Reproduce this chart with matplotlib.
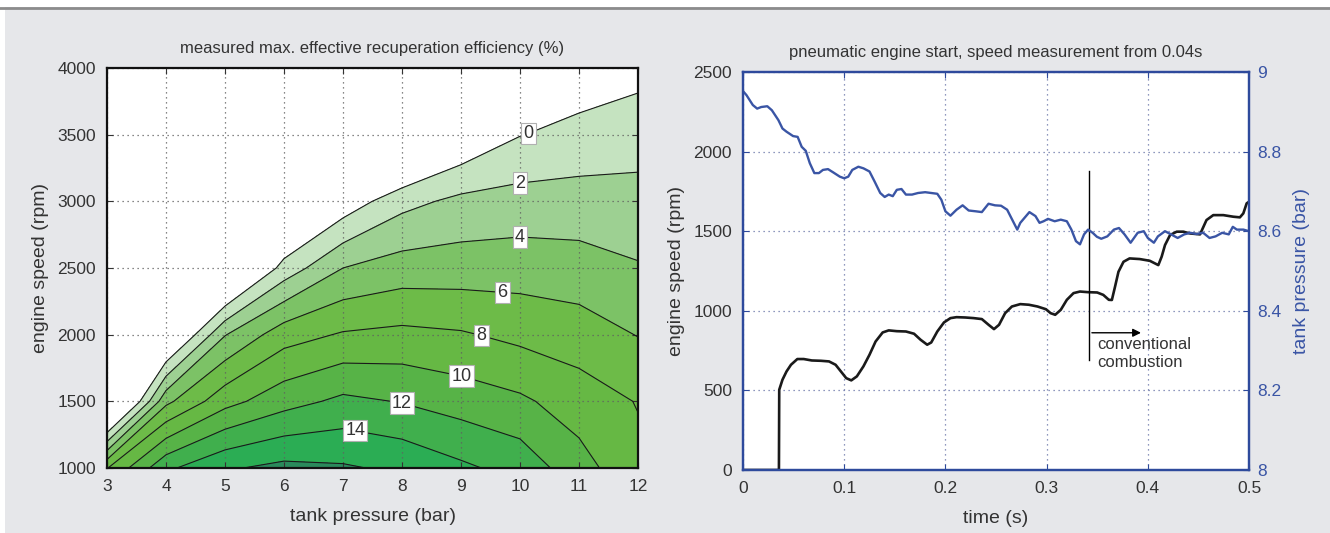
import matplotlib
matplotlib.use("Agg")
import matplotlib.pyplot as plt
import numpy as np
from matplotlib.colors import ListedColormap
from matplotlib.lines import Line2D
from matplotlib.patches import Rectangle

plt.rcParams["font.family"] = ["Liberation Sans", "DejaVu Sans"]

# --- left: efficiency map (tank pressure x engine speed) ---
pressure_bar = [3, 4, 5, 6, 7, 8, 9, 10, 11, 12]
speed_rpm = [1000, 1500, 2000, 2500, 3000, 3500, 4000]
efficiency_pct = [
    [7.9, 13.6, 15.75, 16.55, 16.25, 15.6, 14.38, 13.28, 10.8, 8.5],
    [-7.0, 5.5, 9.3, 11.23, 12.44, 11.9, 11.1, 10.35, 9.03, 7.9],
    [-20.0, -3.8, 3.9, 7.16, 8.19, 8.5, 8.2, 7.5, 6.95, 5.93],
    [-30.0, -14.0, -5.2, 0.79, 4.0, 4.9, 4.96, 5.06, 4.86, 4.16],
    [-40.0, -24.0, -14.0, -4.85, -1.33, 1.36, 2.5, 2.78, 2.78, 2.7],
    [-50.0, -34.0, -24.0, -10.0, -6.0, -5.4, -2.05, -0.07, 0.7, 1.1],
    [-60.0, -44.0, -34.0, -20.0, -11.0, -10.0, -6.0, -3.5, -1.46, -0.66],
]
levels = [0, 2, 4, 6, 8, 10, 12, 14, 16, 18]
band_colors = ["#c5e3c0", "#9dd092", "#7cc266", "#6dbb48", "#66b844",
               "#57b347", "#40af4d", "#2bad54", "#2a8a5c"]
label_spots = [(10.15, 3500), (10.0, 3130), (10.0, 2725), (9.7, 2320),
               (9.35, 2000), (9.0, 1680), (8.0, 1490), (7.2, 1265)]

# --- right: pneumatic start ---
t_pressure = [0, 0.0034, 0.0097, 0.014, 0.018, 0.024, 0.0285, 0.035, 0.039, 0.043,
              0.0495, 0.054, 0.058, 0.062, 0.066, 0.0705, 0.075, 0.079, 0.084, 0.089,
              0.0957, 0.1, 0.104, 0.108, 0.114, 0.119, 0.125, 0.13, 0.1356, 0.14,
              0.144, 0.148, 0.152, 0.1566, 0.161, 0.167, 0.173, 0.18, 0.186, 0.192,
              0.196, 0.2, 0.205, 0.211, 0.217, 0.223, 0.23, 0.236, 0.2426, 0.249,
              0.255, 0.261, 0.266, 0.271, 0.274, 0.278, 0.283, 0.289, 0.293, 0.297,
              0.3014, 0.308, 0.314, 0.32, 0.3245, 0.329, 0.333, 0.337, 0.341, 0.3455,
              0.3497, 0.354, 0.36, 0.3665, 0.3715, 0.377, 0.383, 0.39, 0.396, 0.4,
              0.406, 0.41, 0.417, 0.423, 0.4295, 0.436, 0.442, 0.448, 0.4547, 0.461,
              0.467, 0.4735, 0.48, 0.484, 0.488, 0.4945, 0.5]
tank_pressure = [8.952, 8.942, 8.917, 8.908, 8.912, 8.914, 8.904, 8.879, 8.858, 8.85,
                 8.839, 8.837, 8.812, 8.802, 8.771, 8.746, 8.746, 8.754, 8.756, 8.748,
                 8.737, 8.733, 8.737, 8.754, 8.762, 8.758, 8.75, 8.725, 8.696, 8.686,
                 8.692, 8.688, 8.704, 8.706, 8.692, 8.692, 8.696, 8.698, 8.696, 8.694,
                 8.679, 8.65, 8.639, 8.654, 8.665, 8.652, 8.65, 8.648, 8.669, 8.665,
                 8.664, 8.654, 8.629, 8.604, 8.621, 8.633, 8.648, 8.638, 8.621, 8.625,
                 8.631, 8.625, 8.629, 8.625, 8.604, 8.575, 8.567, 8.592, 8.604, 8.596,
                 8.586, 8.581, 8.587, 8.604, 8.608, 8.592, 8.571, 8.596, 8.6, 8.583,
                 8.571, 8.587, 8.6, 8.592, 8.583, 8.592, 8.596, 8.593, 8.596, 8.583,
                 8.587, 8.596, 8.592, 8.611, 8.604, 8.604, 8.6]
t_speed = [0, 0.0355, 0.0358, 0.039, 0.043, 0.0474, 0.0537, 0.06, 0.068, 0.077,
           0.085, 0.0915, 0.098, 0.102, 0.107, 0.1125, 0.119, 0.125, 0.131, 0.138,
           0.144, 0.152, 0.161, 0.169, 0.1755, 0.182, 0.186, 0.192, 0.1986, 0.205,
           0.211, 0.2196, 0.228, 0.236, 0.2427, 0.248, 0.253, 0.259, 0.2657, 0.274,
           0.2825, 0.291, 0.2993, 0.304, 0.3085, 0.314, 0.32, 0.3266, 0.333, 0.341,
           0.35, 0.356, 0.3615, 0.3645, 0.3676, 0.371, 0.376, 0.382, 0.392, 0.402,
           0.4104, 0.4137, 0.417, 0.422, 0.4286, 0.435, 0.4417, 0.4516, 0.455, 0.458,
           0.4647, 0.4746, 0.4845, 0.491, 0.4944, 0.4977, 0.5]
engine_speed = [0, 0, 504, 567, 619, 661, 697, 697, 688, 686,
                682, 661, 609, 577, 563, 588, 651, 724, 807, 864,
                877, 872, 870, 856, 818, 787, 801, 870, 927, 954,
                960, 958, 954, 948, 912, 885, 912, 985, 1027, 1042,
                1038, 1027, 1010, 985, 975, 1006, 1069, 1111, 1121, 1117,
                1115, 1100, 1069, 1068, 1151, 1245, 1308, 1329, 1325, 1314,
                1287, 1340, 1413, 1476, 1497, 1497, 1486, 1480, 1528, 1570,
                1601, 1601, 1591, 1587, 1612, 1675, 1685]
combustion_t = 0.342
combustion_marker = [690, 1878]
arrow_end_t = 0.396
arrow_rpm = 862

TEXT = "#333333"
BLUE = "#3a55a5"
FRAME_BLUE = "#2e4a9c"


def style_axes(ax, grid_color):
    ax.tick_params(direction="in", top=True, right=True, length=4,
                   labelsize=12.5, colors=TEXT)
    ax.tick_params(axis="x", pad=8)
    ax.tick_params(axis="y", pad=8)
    ax.grid(True, linestyle=(0, (1, 3)), color=grid_color, linewidth=0.9)


def draw_map(ax):
    P, S = np.meshgrid(pressure_bar, speed_rpm)
    Z = np.array(efficiency_pct)
    ax.contourf(P, S, Z, levels=levels, cmap=ListedColormap(band_colors))
    cs = ax.contour(P, S, Z, levels=levels[:-1], colors="#1a1a1a", linewidths=0.8)
    labels = ax.clabel(cs, levels=levels[:8], manual=label_spots, inline=False,
                       fmt="%d", fontsize=13, colors=TEXT)
    for txt in labels:
        txt.set_rotation(0)
        txt.set_bbox(dict(facecolor="white", edgecolor="#b0b0b0", linewidth=0.8, pad=1.5))
    ax.set_xlim(3, 12)
    ax.set_ylim(1000, 4000)
    ax.set_xticks(pressure_bar)
    ax.set_yticks(np.arange(1000, 4001, 500))
    style_axes(ax, "#606060")
    for sp in ax.spines.values():
        sp.set_linewidth(1.6)
        sp.set_color("#111111")
    ax.set_xlabel("tank pressure (bar)", fontsize=14, color=TEXT, labelpad=10)
    ax.set_ylabel("engine speed (rpm)", fontsize=14, color=TEXT, labelpad=6)
    ax.set_title("measured max. effective recuperation efficiency (%)",
                 fontsize=12, color=TEXT, pad=11)


def draw_start(ax):
    ax.plot(t_speed, engine_speed, color="#1a1a1a", linewidth=1.9)
    ax.plot([combustion_t, combustion_t], combustion_marker, color="black", linewidth=1)
    ax.annotate("", xy=(arrow_end_t, arrow_rpm), xytext=(combustion_t, arrow_rpm),
                arrowprops=dict(arrowstyle="-|>", color="black", lw=1, mutation_scale=12))
    ax.text(combustion_t + 0.008, arrow_rpm - 25, "conventional\ncombustion",
            fontsize=12, color=TEXT, va="top", ha="left", linespacing=1.3)
    ax.set_xlim(0, 0.5)
    ax.set_ylim(0, 2500)
    ax.set_xticks([0, 0.1, 0.2, 0.3, 0.4, 0.5])
    ax.set_xticklabels(["0", "0.1", "0.2", "0.3", "0.4", "0.5"])
    ax.set_yticks(np.arange(0, 2501, 500))
    style_axes(ax, "#6a75a8")
    ax.tick_params(right=False, color=FRAME_BLUE)
    for sp in ax.spines.values():
        sp.set_linewidth(1.6)
        sp.set_color(FRAME_BLUE)
    ax.set_xlabel("time (s)", fontsize=14, color=TEXT, labelpad=10)
    ax.set_ylabel("engine speed (rpm)", fontsize=14, color=TEXT, labelpad=6)
    ax.set_title("pneumatic engine start, speed measurement from 0.04s",
                 fontsize=12, color=TEXT, pad=11)

    ax2 = ax.twinx()
    ax2.plot(t_pressure, tank_pressure, color=BLUE, linewidth=1.7)
    ax2.set_ylim(8, 9)
    ax2.set_yticks([8, 8.2, 8.4, 8.6, 8.8, 9])
    ax2.set_yticklabels(["8", "8.2", "8.4", "8.6", "8.8", "9"])
    ax2.tick_params(direction="in", length=4, pad=6, labelsize=12.5, colors=BLUE,
                    color=FRAME_BLUE)
    for sp in ax2.spines.values():
        sp.set_linewidth(1.6)
        sp.set_color(FRAME_BLUE)
    ax2.set_ylabel("tank pressure (bar)", fontsize=14, color=BLUE, labelpad=8)


def main():
    fig = plt.figure(figsize=(13.3, 5.33), dpi=100, facecolor="#e6e7ea")
    fig.add_artist(Rectangle((0, 1 - 7 / 533), 1, 7 / 533, transform=fig.transFigure,
                             facecolor="white", edgecolor="none"))
    fig.add_artist(Rectangle((0, 0), 5 / 1330, 1, transform=fig.transFigure,
                             facecolor="white", edgecolor="none"))
    fig.add_artist(Line2D([0, 1], [1 - 7.5 / 533, 1 - 7.5 / 533], transform=fig.transFigure,
                          color="#8c8c8c", linewidth=2))

    ax_map = fig.add_axes([107 / 1330, 65 / 533, 531 / 1330, 400 / 533])
    ax_start = fig.add_axes([743 / 1330, 63 / 533, 506 / 1330, 398 / 533])
    draw_map(ax_map)
    draw_start(ax_start)

    fig.savefig("out.png", dpi=100, facecolor=fig.get_facecolor())
    plt.close(fig)


if __name__ == "__main__":
    main()
